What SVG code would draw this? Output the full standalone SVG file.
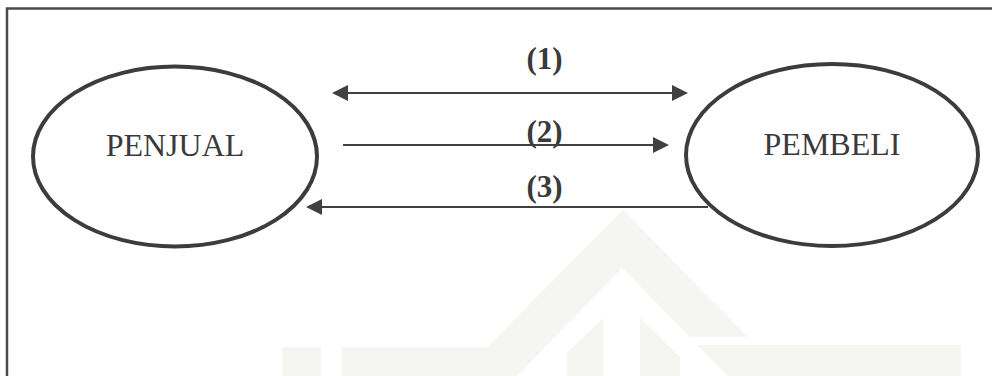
<svg xmlns="http://www.w3.org/2000/svg" width="992" height="376" viewBox="0 0 992 376">
  <style>
    .frame { stroke: #4a4a4a; stroke-width: 2.5; fill: none; }
    .wm { fill: #f5f5f2; stroke: none; }
    .node { fill: #ffffff; stroke: #3c3c3c; stroke-width: 4; }
    .name { font-family: "Liberation Serif", "Times New Roman", serif; font-size: 32px; fill: #3a3a3a; text-anchor: middle; }
    .flow { stroke: #404040; stroke-width: 2.2; fill: none; }
    .lbl { font-family: "Liberation Serif", "Times New Roman", serif; font-size: 31px; font-weight: bold; fill: #3a3a3a; text-anchor: middle; }
  </style>
  <defs>
    <marker id="head" viewBox="0 0 16 16" refX="12" refY="8" markerWidth="16" markerHeight="16" markerUnits="userSpaceOnUse" orient="auto-start-reverse">
      <path d="M0,0 L16,8 L0,16 z" fill="#404040"/>
    </marker>
  </defs>
  <rect x="0" y="0" width="992" height="376" fill="#ffffff"/>
  <g id="watermark">
    <polygon class="wm" points="623,210 487,347 342,347 342,376 517,376 622,268 690,337 748,337"/>
    <rect class="wm" x="282" y="347" width="39" height="29"/>
    <polygon class="wm" points="567,353 603,318 603,376 567,376"/>
    <polygon class="wm" points="640,318 680,357 680,376 640,376"/>
    <polygon class="wm" points="697,345 961,345 961,376 728,376"/>
  </g>
  <g id="frame">
    <path class="frame" d="M7,376 L7,8.5 L992,8.5"/>
  </g>
  <g id="penjual">
    <ellipse class="node" cx="175" cy="156.5" rx="142" ry="90"/>
    <text class="name" x="175" y="156">PENJUAL</text>
  </g>
  <g id="pembeli">
    <ellipse class="node" cx="832" cy="155" rx="146" ry="91"/>
    <text class="name" x="832" y="155">PEMBELI</text>
  </g>
  <g id="connectors">
    <line class="flow" x1="336" y1="93" x2="684" y2="93" marker-start="url(#head)" marker-end="url(#head)"/>
    <line class="flow" x1="343" y1="145" x2="665" y2="145" marker-end="url(#head)"/>
    <line class="flow" x1="708" y1="207" x2="310" y2="207" marker-end="url(#head)"/>
    <text class="lbl" x="544.5" y="69">(1)</text>
    <text class="lbl" x="544.5" y="142">(2)</text>
    <text class="lbl" x="544.5" y="197">(3)</text>
  </g>
</svg>
